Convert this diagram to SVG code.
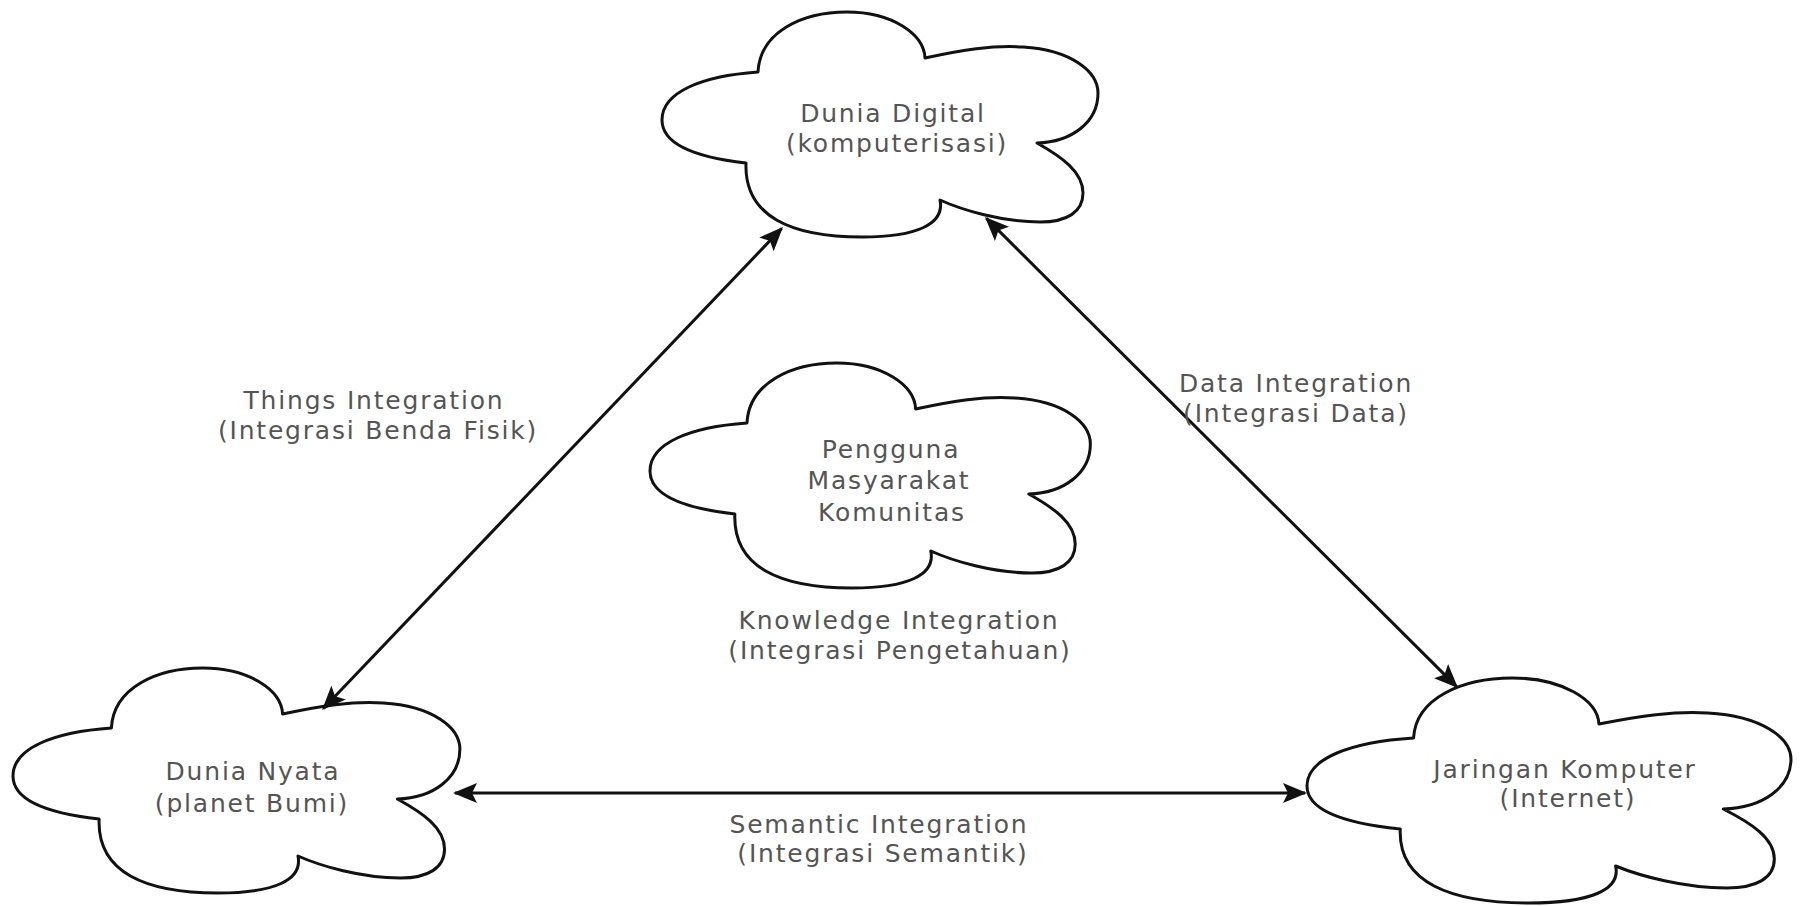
<svg xmlns="http://www.w3.org/2000/svg" xmlns:xlink="http://www.w3.org/1999/xlink" width="1816" height="906" viewBox="0 0 1816 906">
<style>
.cloud{fill:#fff;stroke:#111;stroke-width:3;stroke-linejoin:round;vector-effect:non-scaling-stroke}
.lbl{font-family:"DejaVu Sans","Verdana",sans-serif;font-size:25px;fill:#555;text-anchor:middle;letter-spacing:1.8px}
.conn{stroke:#111;stroke-width:3;fill:none}
</style>
<defs>
<path id="cloudShape" class="cloud" d="M96,60 C98,20 140,0 185,0 C230,0 262,22 263,46 C300,38 330,33 361,35 C410,38 436,60 436,81 C436,110 410,130 375,131 C400,145 421,160 421,181 C421,200 405,210 378,210 C340,210 300,198 278,188 C283,212 255,225 200,225 C130,225 82,205 84,151 C40,146 0,135 0,108 C0,80 40,64 96,60 Z"/>
<marker id="ah" viewBox="0 0 24 20" markerWidth="24" markerHeight="20" refX="22" refY="10" orient="auto-start-reverse" markerUnits="userSpaceOnUse">
<path d="M0,0 L24,10 L0,20 L5,10 Z" fill="#111"/>
</marker>
</defs>
<rect width="1816" height="906" fill="#fff"/>
<g id="node-digital">
<use xlink:href="#cloudShape" transform="translate(662,12)"/>
<text class="lbl" x="893" y="122">Dunia Digital</text>
<text class="lbl" x="897" y="152">(komputerisasi)</text>
</g>
<g id="node-pengguna">
<use xlink:href="#cloudShape" transform="translate(650,363) scale(1.01,1)"/>
<text class="lbl" x="891" y="458">Pengguna</text>
<text class="lbl" x="889" y="489">Masyarakat</text>
<text class="lbl" x="892" y="521">Komunitas</text>
</g>
<g id="node-nyata">
<use xlink:href="#cloudShape" transform="translate(13,668) scale(1.025,1)"/>
<text class="lbl" x="253" y="780">Dunia Nyata</text>
<text class="lbl" x="252" y="812">(planet Bumi)</text>
</g>
<g id="node-jaringan">
<use xlink:href="#cloudShape" transform="translate(1307,678) scale(1.11,1)"/>
<text class="lbl" x="1565" y="778">Jaringan Komputer</text>
<text class="lbl" x="1568" y="807">(Internet)</text>
</g>
<g id="connectors">
<line class="conn" x1="781.6" y1="228.5" x2="323.4" y2="708.5" marker-start="url(#ah)" marker-end="url(#ah)"/>
<line class="conn" x1="986.4" y1="218.4" x2="1456.6" y2="686.6" marker-start="url(#ah)" marker-end="url(#ah)"/>
<line class="conn" x1="455" y1="793" x2="1305" y2="793" marker-start="url(#ah)" marker-end="url(#ah)"/>
</g>
<g id="labels">
<text class="lbl" x="374" y="409">Things Integration</text>
<text class="lbl" x="378" y="439">(Integrasi Benda Fisik)</text>
<text class="lbl" x="1296" y="392">Data Integration</text>
<text class="lbl" x="1296" y="422">(Integrasi Data)</text>
<text class="lbl" x="899" y="629">Knowledge Integration</text>
<text class="lbl" x="900" y="659">(Integrasi Pengetahuan)</text>
<text class="lbl" x="879" y="833">Semantic Integration</text>
<text class="lbl" x="883" y="862">(Integrasi Semantik)</text>
</g>
</svg>
